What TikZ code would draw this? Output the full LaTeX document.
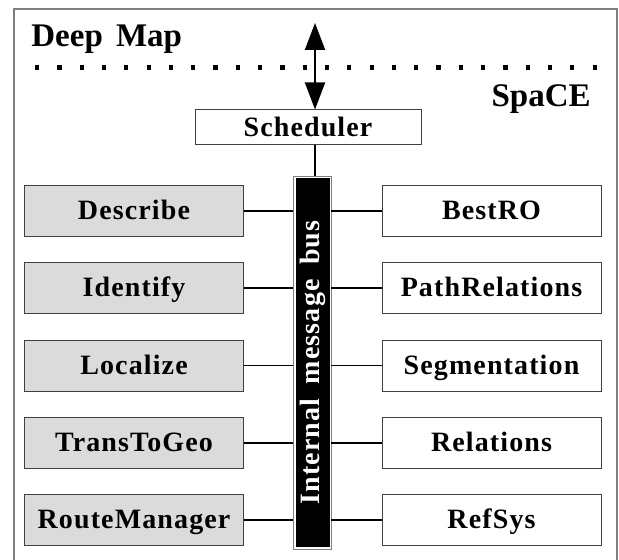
\documentclass[tikz,border=0pt]{standalone}
\usepackage{fontspec}
\setmainfont{Liberation Serif}
\newfontfamily\modfont[LetterSpace=4,WordSpace=1.8]{Liberation Serif}
\newfontfamily\headfont[WordSpace=1.6]{Liberation Serif}
\usetikzlibrary{arrows.meta}

\begin{document}
\begin{tikzpicture}[x=0.5pt,y=-0.5pt,
    module/.style={draw=black!75, line width=0.5pt, inner sep=0pt,
        minimum width=109.5pt, minimum height=25.5pt,
        font=\modfont\bfseries\fontsize{14}{16}\selectfont,
        text height=10pt, text depth=1.4pt},
    agent/.style={module, fill=black!14},
    service/.style={module, fill=white},
    link/.style={line width=0.9pt},
    head/.style={inner sep=0pt, font=\headfont\bfseries\fontsize{16.5}{20}\selectfont}]

    \useasboundingbox (0,0) rectangle (619,560);

    % outer frame, open at the bottom
    \draw[black!50, line width=0.75pt] (14,560) -- (14,9) -- (617,9) -- (617,560);

    \node[head, anchor=base west] (deepmap) at (31,47) {Deep Map};
    \node[head, anchor=base east] (space) at (591,107) {SpaCE};
    \draw[line width=2.1pt, dash pattern=on 2.1pt off 9.05pt] (35,67.5) -- (597,67.5);

    \node[service, minimum width=113pt, minimum height=17.5pt] (sched) at (308,127.5) {Scheduler};
    \coordinate (dm) at (315,23);
    \draw[line width=1pt, {Triangle[length=13.5pt,width=10pt]}-{Triangle[length=13.5pt,width=10pt]}]
        (dm) -- (dm |- sched.north);

    % message bus
    \node[draw=black!50, line width=0.4pt, fill=white, inner sep=0pt,
        minimum width=19pt, minimum height=186.5pt] (bus) at (312,362.5) {};
    \fill[black] (296,178) rectangle (330,547);
    \node[rotate=90, text=white, inner sep=0pt,
        font=\modfont\bfseries\fontsize{14}{16}\selectfont,
        text height=10pt, text depth=1.4pt] (buslabel) at (310.5,362.5) {Internal message bus};
    \draw[link] (sched.south -| dm) -- (bus.north -| dm);

    % agents on the left
    \node[agent] (describe) at (134,211) {Describe};
    \node[agent] (identify) at (134,288.25) {Identify};
    \node[agent] (localize) at (134,365.5) {Localize};
    \node[agent] (transtogeo) at (134,442.75) {TransToGeo};
    \node[agent] (routemgr) at (134,520) {RouteManager};

    % services on the right
    \node[service] (bestro) at (491.5,211) {BestRO};
    \node[service] (pathrel) at (491.5,288.25) {PathRelations};
    \node[service] (segment) at (491.5,365.5) {Segmentation};
    \node[service] (relations) at (491.5,442.75) {Relations};
    \node[service] (refsys) at (491.5,520) {RefSys};

    \draw[link] (describe.east) -- (describe.east -| bus.west);
    \draw[link] (identify.east) -- (identify.east -| bus.west);
    \draw[link] (localize.east) -- (localize.east -| bus.west);
    \draw[link] (transtogeo.east) -- (transtogeo.east -| bus.west);
    \draw[link] (routemgr.east) -- (routemgr.east -| bus.west);

    \draw[link] (bestro.west -| bus.east) -- (bestro.west);
    \draw[link] (pathrel.west -| bus.east) -- (pathrel.west);
    \draw[link] (segment.west -| bus.east) -- (segment.west);
    \draw[link] (relations.west -| bus.east) -- (relations.west);
    \draw[link] (refsys.west -| bus.east) -- (refsys.west);
\end{tikzpicture}
\end{document}
